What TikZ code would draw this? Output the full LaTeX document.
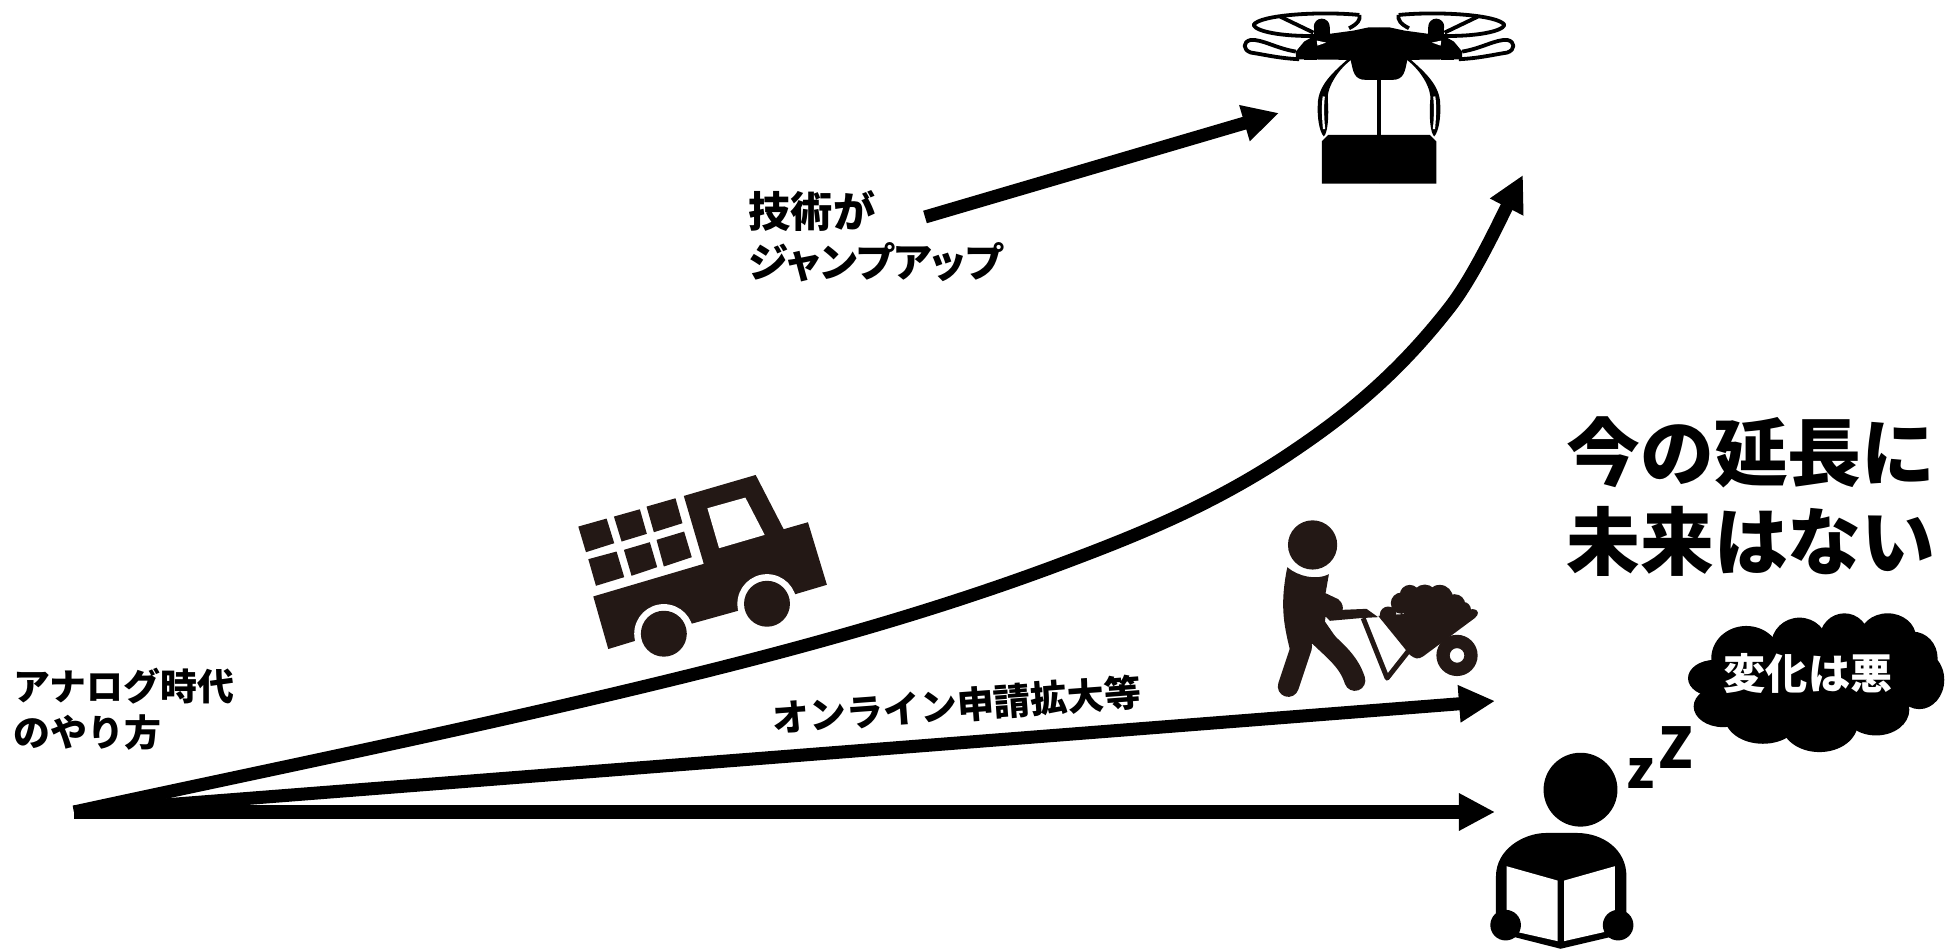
\documentclass[tikz,border=0pt]{standalone}
\usepackage{fontspec}
\setmainfont{Noto Sans CJK JP}
\newfontfamily\titlefont{Noto Sans CJK JP Black}
\usetikzlibrary{arrows.meta}

\definecolor{ink}{HTML}{231815}

\tikzset{
    roadline/.style={line width=1.3mm, -{Triangle[length=3.6mm,width=3.5mm]}},
    smalltext/.style={inner sep=0pt, align=left, font=\bfseries\fontsize{10.5}{13}\selectfont},
    bigtext/.style={inner sep=0pt, font=\titlefont\fontsize{21}{25.9}\selectfont},
    rotorline/.style={line width=0.38mm, line join=round}
}

\begin{document}
\begin{tikzpicture}[x=0.01cm, y=-0.01cm]

    \useasboundingbox (0, 0) rectangle (1945, 952);

    % Truck above the curve
    \begin{scope}[shift={(560, 460)}, x=0.00333cm, y=-0.00333cm]
        \fill[ink] (100, 410) -- (432, 312) -- (372, 108) -- (588, 45) -- (672, 208) -- (745, 187)
            -- (802, 375) -- (600, 435) -- (395, 492) -- (145, 568) -- cycle;
        \fill[white] (443, 145) -- (557, 113) -- (615, 225) -- (478, 265) -- cycle;
        % Load on the truck bed
        \foreach \ax/\ay/\bx/\by/\cx/\cy/\dx/\dy in {
            55/200/140/176/163/250/78/277, 162/170/240/148/261/222/185/245,
            260/140/347/115/368/190/282/217, 85/298/170/275/193/352/108/378,
            192/270/270/247/292/322/215/348, 290/240/373/215/396/292/312/320}
            \fill[ink] (\ax, \ay) -- (\bx, \by) -- (\cx, \cy) -- (\dx, \dy) -- cycle;
        % Wheels with a white ring
        \foreach \wx/\wy in {312/522, 622/432} {
            \fill[white] (\wx, \wy) circle [radius=89];
            \fill[ink] (\wx, \wy) circle [radius=69];
        }
    \end{scope}

    % Drone, one half drawn twice
    \begin{scope}[shift={(1379, 0)}, x=0.00333cm, y=-0.00333cm]
        \foreach \side in {1, -1} {
            \begin{scope}[xscale=\side]
                % Upper rotor
                \draw[rotorline] (-59, 45) .. controls (-180, 33) and (-360, 45) .. (-377, 75)
                    .. controls (-370, 95) and (-290, 110) .. (-190, 108);
                \draw[rotorline] (-59, 45) .. controls (-55, 60) and (-65, 72) .. (-90, 85);
                \draw[rotorline] (-297, 50) -- (-197, 98);
                % Lower rotor
                \draw[rotorline] (-250, 155) .. controls (-310, 145) and (-350, 118) .. (-385, 120)
                    .. controls (-410, 125) and (-410, 150) .. (-385, 158)
                    .. controls (-340, 165) and (-300, 175) .. (-240, 178);
                % Motors
                \fill (-172, 80) circle [radius=24];
                \fill (-196, 80) rectangle (-148, 115);
                \fill (-205, 138) circle [radius=20];
                \fill (-225, 138) rectangle (-185, 180);
                % Arm and body
                \fill (0, 82) -- (-30, 82) -- (-77, 92) -- (-195, 108) -- (-225, 125) -- (-250, 155)
                    -- (-250, 178) -- (-85, 180)
                    .. controls (-78, 215) and (-75, 240) .. (-40, 240) -- (0, 240) -- cycle;
                \fill[white] (-187, 122) -- (-159, 128) -- (-185, 137) -- cycle;
                % Landing leg
                \fill (-92, 176) .. controls (-135, 215) and (-184, 255) .. (-184, 315)
                    .. controls (-186, 350) and (-180, 395) .. (-166, 410)
                    .. controls (-154, 400) and (-150, 350) .. (-154, 300)
                    .. controls (-158, 270) and (-130, 215) .. (-84, 180) -- cycle;
                \draw[white, line width=0.22mm] (-166, 290) .. controls (-170, 320) and (-168, 360) .. (-165, 388);
                % Corner of the parcel
                \fill (0, 405) -- (-152, 405) -- (-172, 425) -- (-172, 552) -- (0, 552) -- cycle;
            \end{scope}
        }
        % Cord from drone to parcel
        \fill (-5, 235) rectangle (5, 410);
    \end{scope}

    % Worker with barrow
    \begin{scope}[shift={(1260, 510)}, x=0.00333cm, y=-0.00333cm]
        \fill[ink] (158, 105) circle [radius=74];
        \fill[ink] (82, 172) .. controls (115, 200) and (170, 212) .. (207, 193) -- (197, 250)
            -- (235, 268) .. controls (250, 280) and (250, 295) .. (248, 300) -- (320, 297) -- (355, 322)
            -- (300, 325) -- (210, 333) -- (197, 320) -- (195, 335) -- (240, 400) -- (165, 400)
            -- (90, 420) .. controls (70, 340) and (60, 280) .. (82, 172) -- cycle;
        % Legs
        \draw[ink, line width=2.1mm, line cap=round] (170, 370) .. controls (220, 420) and (265, 450) .. (285, 512);
        \draw[ink, line width=2.1mm, line cap=round] (125, 410) -- (85, 530);
        % Barrow frame and wheel
        \draw[ink, line width=0.5mm, line join=round] (310, 325) -- (382, 505) -- (445, 425);
        \fill[ink, even odd rule] (592, 437) circle [radius=62] (592, 437) circle [radius=22];
        % Tray and load
        \fill[ink] (355, 318) -- (640, 298) .. controls (660, 300) and (658, 315) .. (645, 325)
            -- (490, 440) .. controls (475, 450) and (465, 447) .. (450, 435) -- cycle;
        \foreach \lx/\ly/\lr in {385/315/25, 425/280/32, 450/255/30, 495/262/38, 540/265/40, 585/285/32, 610/300/24, 500/330/70}
            \fill[ink] (\lx, \ly) circle [radius=\lr];
    \end{scope}

    % Reader with thought cloud
    \begin{scope}[shift={(1480, 600)}, x=0.00333cm, y=-0.00333cm]
        \fill (302, 570) circle [radius=111];
        \fill (48, 985) -- (48, 830) .. controls (48, 750) and (130, 700) .. (200, 700) -- (290, 700)
            .. controls (370, 700) and (440, 750) .. (440, 830) -- (440, 985) -- (395, 1012)
            -- (242, 1048) -- (100, 1012) -- cycle;
        \fill[white] (80, 800) -- (233, 843) -- (233, 1025) -- (100, 995) -- (80, 950) -- cycle;
        \fill[white] (405, 800) -- (253, 843) -- (253, 1025) -- (385, 995) -- (405, 950) -- cycle;
        \fill (77, 977) circle [radius=46];
        \fill (415, 977) circle [radius=46];
        % Cloud made of overlapping ellipses
        \foreach \cx/\cy/\rx/\ry in {
            800/175/105/97, 960/135/85/82, 1095/118/75/78, 1225/112/85/72, 1300/175/75/80,
            1320/240/75/88, 705/235/80/55, 730/320/88/62, 850/350/115/82, 1020/370/115/87,
            1190/330/100/77, 1000/230/280/130}
            \fill (\cx, \cy) ellipse [x radius=\rx, y radius=\ry];
    \end{scope}

    % Labels
    \node[smalltext, anchor=west] (label_analog) at (13, 709) {アナログ時代\\のやり方};
    \node[smalltext, anchor=west, font=\bfseries\fontsize{12}{14.2}\selectfont] (label_jump) at (748, 236)
        {技術が\\{\addfontfeatures{RawFeature=+palt}\fontsize{11.5}{14.2}\selectfont ジャンプアップ}};
    \node[smalltext, rotate=4.2] (label_online) at (957, 705) {オンライン申請拡大等};
    \node[bigtext] (label_future_a) at (1751, 452) {今の延長に};
    \node[bigtext] (label_future_b) at (1751, 541) {未来はない};
    \node[inner sep=0pt, text=white, font=\bfseries\fontsize{12}{14}\selectfont] (label_cloud) at (1808, 674) {変化は悪};
    \node[inner sep=0pt, font=\bfseries\fontsize{15}{15}\selectfont] (label_small_z) at (1641, 773) {z};
    \node[inner sep=0pt, font=\bfseries\fontsize{16}{16}\selectfont] (label_big_z) at (1676, 748) {Z};

    % End points of the arrows
    \coordinate (start) at (74, 812);
    \coordinate (tip_now) at (1495, 812);
    \coordinate (tip_online) at (1495, 701);
    \coordinate (tip_jump) at (1523, 175);
    \coordinate (tail_small) at (925, 217);
    \coordinate (tip_small) at (1279, 113);

    % Draw the three roads
    \draw[roadline] (start) .. controls (277, 768) and (480, 727) .. (683, 677)
        .. controls (805, 647) and (928, 613) .. (1050, 568)
        .. controls (1128, 539) and (1205, 509) .. (1283, 458)
        .. controls (1339, 421) and (1394, 379) .. (1450, 307)
        .. controls (1474, 276) and (1499, 222) .. (tip_jump);
    \draw[roadline] (start) -- (tip_online);
    \draw[roadline] (start) -- (tip_now);
    % Draw arrow beside the drone
    \draw[roadline] (tail_small) -- (tip_small);

\end{tikzpicture}
\end{document}
